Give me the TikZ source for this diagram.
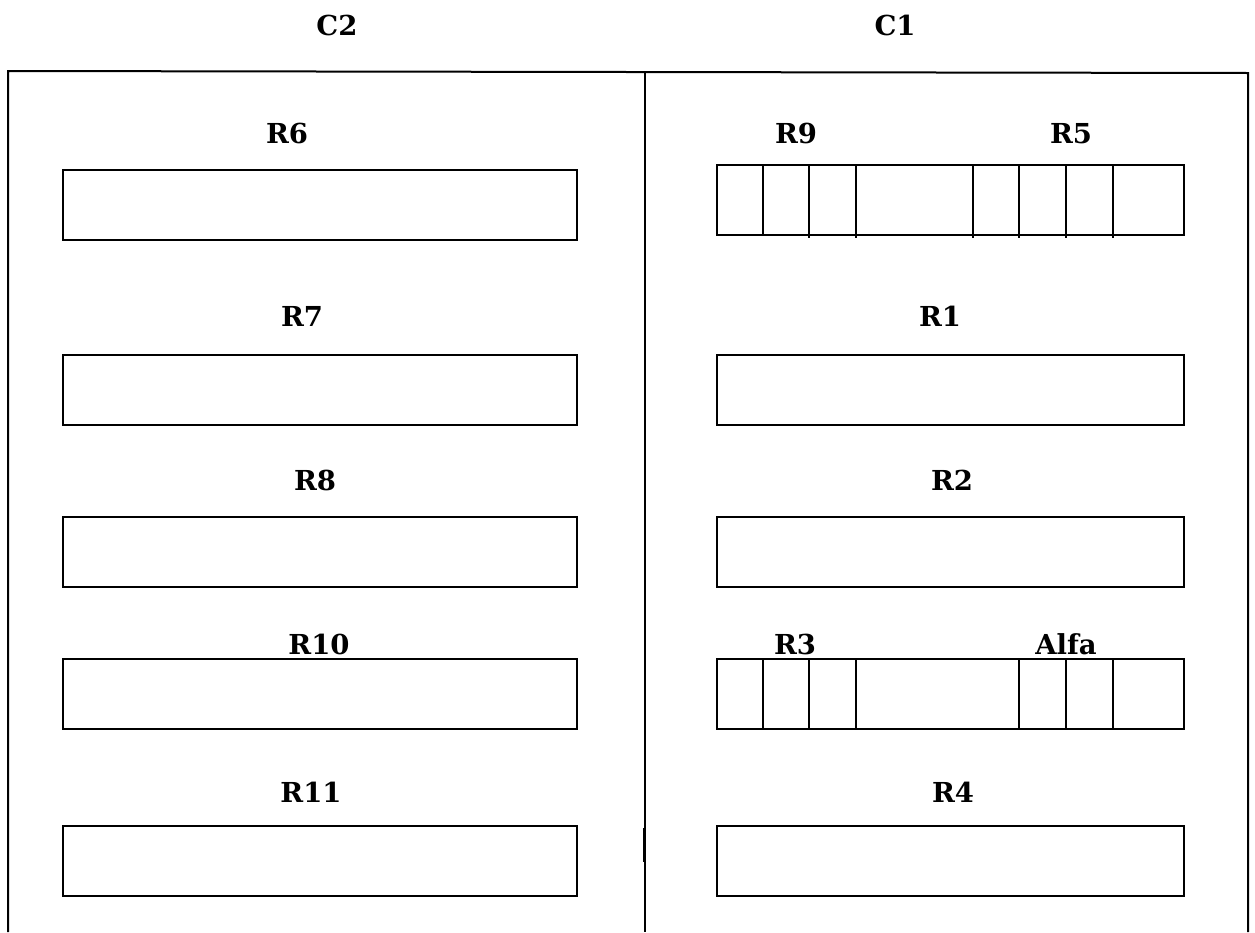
\documentclass[tikz,border=0pt]{standalone}
\usepackage{fontspec}
\setmainfont{DejaVu Serif}
\begin{document}
\begin{tikzpicture}[x=1pt,y=-1pt,
  lbl/.style={font=\fontsize{27.5}{32}\selectfont\bfseries, inner sep=0pt, anchor=base},
  slot/.style={draw, line width=1.8pt, inner sep=0pt, minimum height=70pt, anchor=north west},
  lslot/.style={slot, minimum width=514pt},
  rslot/.style={slot, minimum width=467pt},
  divl/.style={line width=1.4pt},
  frame/.style={line width=2pt}]
\useasboundingbox (0,0) rectangle (1255,932);
% outer frame
\coordinate (fbl) at (8,932);
\coordinate (ftl) at (8,71);
\coordinate (ftr) at (1248,73);
\coordinate (fbr) at (1248,932);
\coordinate (dt) at (645,72);
\coordinate (db) at (645,932);
\draw[frame] (fbl) -- (ftl) -- (ftr) -- (fbr);
\draw[frame] (dt) -- (db);
\coordinate (tk1) at (643.5,828);
\coordinate (tk2) at (643.5,862);
\draw[line width=1.5pt] (tk1) -- (tk2);
% column titles
\node[lbl] (c2) at (337,35) {C2};
\node[lbl] (c1) at (895,35) {C1};
% left column
\node[lbl] (r6) at (287,143) {R6};
\node[lslot] (b6) at (62,169) {};
\node[lbl] (r7) at (302,326) {R7};
\node[lslot] (b7) at (62,354) {};
\node[lbl] (r8) at (315,490) {R8};
\node[lslot] (b8) at (62,516) {};
\node[lbl] (r10) at (319,654) {R10};
\node[lslot] (b10) at (62,658) {};
\node[lbl] (r11) at (311,802) {R11};
\node[lslot] (b11) at (62,825) {};
% right column
\node[lbl] (r9) at (796,143) {R9};
\node[lbl] (r5) at (1071,143) {R5};
\node[rslot] (b95) at (716,164) {};
\foreach \xx in {763}{\draw[divl] (\xx,164) -- (\xx,234);}
\foreach \xx in {809,856,973,1019,1066,1113}{\draw[divl] (\xx,164) -- (\xx,238);}
\node[lbl] (r1) at (940,326) {R1};
\node[rslot] (b1) at (716,354) {};
\node[lbl] (r2) at (952,490) {R2};
\node[rslot] (b2) at (716,516) {};
\node[lbl] (r3) at (795,654) {R3};
\node[lbl] (alfa) at (1066,654) {Alfa};
\node[rslot] (b3a) at (716,658) {};
\foreach \xx in {763,809,856,1019,1066,1113}{\draw[divl] (\xx,658) -- (\xx,728);}
\node[lbl] (r4) at (953,802) {R4};
\node[rslot] (b4) at (716,825) {};
\end{tikzpicture}
\end{document}
